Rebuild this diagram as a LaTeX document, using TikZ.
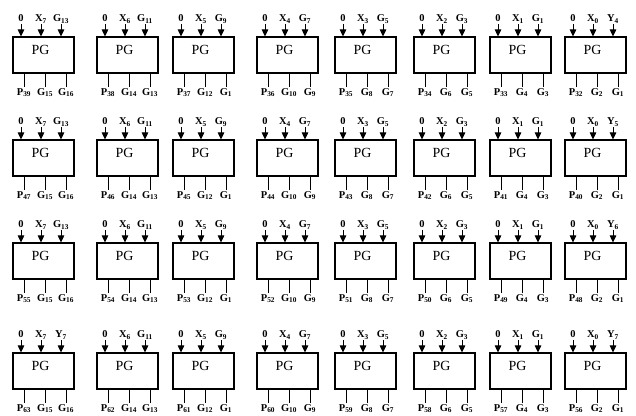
\documentclass[tikz,border=0pt]{standalone}
\usepackage{fontspec}
\setmainfont{Liberation Serif}
\usetikzlibrary{arrows.meta}
\newcommand\PGblock[9]{%
  % #1 name, #2 left, #3 top, #4-#6 inputs, #7-#9 outputs
  \node[pgbox] (b#1) at (#2+30.5,#3+18) {};
  \node[pgtext] (t#1) at ([shift={(-3,-5)}]b#1.center) {PG};
  \node[inlab] (ia#1) at (#2+8,#3-13) {#4};
  \node[inlab] (ib#1) at (#2+28,#3-13) {#5};
  \node[inlab] (ic#1) at (#2+48,#3-13) {#6};
  \draw[inarrow] (ia#1.south) -- (ia#1.south |- b#1.north);
  \draw[inarrow] (ib#1.south) -- (ib#1.south |- b#1.north);
  \draw[inarrow] (ic#1.south) -- (ic#1.south |- b#1.north);
  \node[outlab] (oa#1) at (#2+11,#3+50) {#7};
  \node[outlab] (ob#1) at (#2+32,#3+50) {#8};
  \node[outlab] (oc#1) at (#2+53,#3+50) {#9};
  \draw[outline] (oa#1.north |- b#1.south) -- (oa#1.north);
  \draw[outline] (ob#1.north |- b#1.south) -- (ob#1.north);
  \draw[outline] (oc#1.north |- b#1.south) -- (oc#1.north);
}
\newcommand\Sb[2]{#1\textsubscript{#2}}
\begin{document}
\begin{tikzpicture}[x=1bp,y=-1bp,
  pgbox/.style={draw, line width=1.1bp, minimum width=61bp, minimum height=36bp, inner sep=0pt},
  pgtext/.style={inner sep=0pt, font=\fontsize{14}{14}\selectfont},
  inlab/.style={font=\fontsize{10.5}{11}\selectfont\bfseries, inner sep=0.5bp, anchor=south, text height=7.5bp, text depth=1.5bp},
  outlab/.style={font=\fontsize{10.5}{11}\selectfont\bfseries, inner sep=0.5bp, anchor=north, text height=7.5bp, text depth=1.5bp},
  inarrow/.style={-{Triangle[length=7bp,width=6.5bp]}, line width=0.9bp},
  outline/.style={line width=0.9bp}]
\useasboundingbox (0,0) rectangle (636,415);
% Row 1
\PGblock{11}{13}{37}{0}{\Sb{X}{7}}{\Sb{G}{13}}{\Sb{P}{39}}{\Sb{G}{15}}{\Sb{G}{16}}
\PGblock{12}{97}{37}{0}{\Sb{X}{6}}{\Sb{G}{11}}{\Sb{P}{38}}{\Sb{G}{14}}{\Sb{G}{13}}
\PGblock{13}{173}{37}{0}{\Sb{X}{5}}{\Sb{G}{9}}{\Sb{P}{37}}{\Sb{G}{12}}{\Sb{G}{1}}
\PGblock{14}{257}{37}{0}{\Sb{X}{4}}{\Sb{G}{7}}{\Sb{P}{36}}{\Sb{G}{10}}{\Sb{G}{9}}
\PGblock{15}{335}{37}{0}{\Sb{X}{3}}{\Sb{G}{5}}{\Sb{P}{35}}{\Sb{G}{8}}{\Sb{G}{7}}
\PGblock{16}{414}{37}{0}{\Sb{X}{2}}{\Sb{G}{3}}{\Sb{P}{34}}{\Sb{G}{6}}{\Sb{G}{5}}
\PGblock{17}{490}{37}{0}{\Sb{X}{1}}{\Sb{G}{1}}{\Sb{P}{33}}{\Sb{G}{4}}{\Sb{G}{3}}
\PGblock{18}{565}{37}{0}{\Sb{X}{0}}{\Sb{Y}{4}}{\Sb{P}{32}}{\Sb{G}{2}}{\Sb{G}{1}}
% Row 2
\PGblock{21}{13}{140}{0}{\Sb{X}{7}}{\Sb{G}{13}}{\Sb{P}{47}}{\Sb{G}{15}}{\Sb{G}{16}}
\PGblock{22}{97}{140}{0}{\Sb{X}{6}}{\Sb{G}{11}}{\Sb{P}{46}}{\Sb{G}{14}}{\Sb{G}{13}}
\PGblock{23}{173}{140}{0}{\Sb{X}{5}}{\Sb{G}{9}}{\Sb{P}{45}}{\Sb{G}{12}}{\Sb{G}{1}}
\PGblock{24}{257}{140}{0}{\Sb{X}{4}}{\Sb{G}{7}}{\Sb{P}{44}}{\Sb{G}{10}}{\Sb{G}{9}}
\PGblock{25}{335}{140}{0}{\Sb{X}{3}}{\Sb{G}{5}}{\Sb{P}{43}}{\Sb{G}{8}}{\Sb{G}{7}}
\PGblock{26}{414}{140}{0}{\Sb{X}{2}}{\Sb{G}{3}}{\Sb{P}{42}}{\Sb{G}{6}}{\Sb{G}{5}}
\PGblock{27}{490}{140}{0}{\Sb{X}{1}}{\Sb{G}{1}}{\Sb{P}{41}}{\Sb{G}{4}}{\Sb{G}{3}}
\PGblock{28}{565}{140}{0}{\Sb{X}{0}}{\Sb{Y}{5}}{\Sb{P}{40}}{\Sb{G}{2}}{\Sb{G}{1}}
% Row 3
\PGblock{31}{13}{243}{0}{\Sb{X}{7}}{\Sb{G}{13}}{\Sb{P}{55}}{\Sb{G}{15}}{\Sb{G}{16}}
\PGblock{32}{97}{243}{0}{\Sb{X}{6}}{\Sb{G}{11}}{\Sb{P}{54}}{\Sb{G}{14}}{\Sb{G}{13}}
\PGblock{33}{173}{243}{0}{\Sb{X}{5}}{\Sb{G}{9}}{\Sb{P}{53}}{\Sb{G}{12}}{\Sb{G}{1}}
\PGblock{34}{257}{243}{0}{\Sb{X}{4}}{\Sb{G}{7}}{\Sb{P}{52}}{\Sb{G}{10}}{\Sb{G}{9}}
\PGblock{35}{335}{243}{0}{\Sb{X}{3}}{\Sb{G}{5}}{\Sb{P}{51}}{\Sb{G}{8}}{\Sb{G}{7}}
\PGblock{36}{414}{243}{0}{\Sb{X}{2}}{\Sb{G}{3}}{\Sb{P}{50}}{\Sb{G}{6}}{\Sb{G}{5}}
\PGblock{37}{490}{243}{0}{\Sb{X}{1}}{\Sb{G}{1}}{\Sb{P}{49}}{\Sb{G}{4}}{\Sb{G}{3}}
\PGblock{38}{565}{243}{0}{\Sb{X}{0}}{\Sb{Y}{6}}{\Sb{P}{48}}{\Sb{G}{2}}{\Sb{G}{1}}
% Row 4
\PGblock{41}{13}{353}{0}{\Sb{X}{7}}{\Sb{Y}{7}}{\Sb{P}{63}}{\Sb{G}{15}}{\Sb{G}{16}}
\PGblock{42}{97}{353}{0}{\Sb{X}{6}}{\Sb{G}{11}}{\Sb{P}{62}}{\Sb{G}{14}}{\Sb{G}{13}}
\PGblock{43}{173}{353}{0}{\Sb{X}{5}}{\Sb{G}{9}}{\Sb{P}{61}}{\Sb{G}{12}}{\Sb{G}{1}}
\PGblock{44}{257}{353}{0}{\Sb{X}{4}}{\Sb{G}{7}}{\Sb{P}{60}}{\Sb{G}{10}}{\Sb{G}{9}}
\PGblock{45}{335}{353}{0}{\Sb{X}{3}}{\Sb{G}{5}}{\Sb{P}{59}}{\Sb{G}{8}}{\Sb{G}{7}}
\PGblock{46}{414}{353}{0}{\Sb{X}{2}}{\Sb{G}{3}}{\Sb{P}{58}}{\Sb{G}{6}}{\Sb{G}{5}}
\PGblock{47}{490}{353}{0}{\Sb{X}{1}}{\Sb{G}{1}}{\Sb{P}{57}}{\Sb{G}{4}}{\Sb{G}{3}}
\PGblock{48}{565}{353}{0}{\Sb{X}{0}}{\Sb{Y}{7}}{\Sb{P}{56}}{\Sb{G}{2}}{\Sb{G}{1}}
\end{tikzpicture}
\end{document}
